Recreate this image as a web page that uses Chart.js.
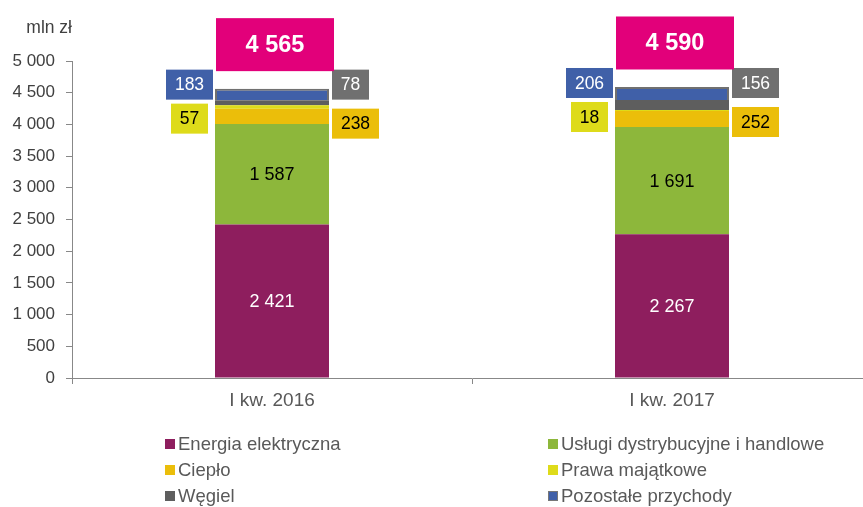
<!DOCTYPE html>
<html>
<head>
<meta charset="utf-8">
<script src="https://cdn.jsdelivr.net/npm/chart.js@4"></script>
<style>
	html, body { margin: 0; padding: 0; background: #fff; overflow: hidden; }
	canvas { display: block; }
</style>
</head>
<body>
<canvas id="chart" width="872" height="507"></canvas>
<script>
const categories = ['I kw. 2016', 'I kw. 2017'];
const energia = [2421, 2267];
const uslugi = [1587, 1691];
const cieplo = [238, 252];
const prawa = [57, 18];
const wegiel = [78, 156];
const pozostale = [183, 206];
const totals = [4565, 4590];
const seriesNames = ['Energia elektryczna', 'Usługi dystrybucyjne i handlowe', 'Ciepło', 'Prawa majątkowe', 'Węgiel', 'Pozostałe przychody'];
const unitLabel = 'mln zł';

const FONT = "'Liberation Sans', Arial, sans-serif";
const colors = ['#8E1E5E', '#8DB73B', '#EBBE0A', '#DEDB1A', '#5E5E5E', '#4060A8'];

function fmt(v){
	return String(v).replace(/\B(?=(\d{3})+(?!\d))/g, ' ');
}

function box(ctx, cx, cy, w, h, fill, text, textColor, font){
	ctx.fillStyle = fill;
	ctx.fillRect(cx - w/2, cy - h/2, w, h);
	ctx.fillStyle = textColor;
	ctx.font = font;
	ctx.textAlign = 'center';
	ctx.textBaseline = 'middle';
	ctx.fillText(text, cx, cy + 1);
}

// callouts and inner labels
const labelPlugin = {
	id: 'labels',
	afterDatasetsDraw(chart){
		const ctx = chart.ctx;
		ctx.save();
		const fIn = '18px ' + FONT;
		const fBox = '17.5px ' + FONT;
		for(let j=0;j<categories.length;j++){
			const top = chart.getDatasetMeta(5).data[j];
			const barTop = top.y;
			const left = top.x - top.width/2;
			const right = top.x + top.width/2;

			// inner labels
			const e = chart.getDatasetMeta(0).data[j];
			ctx.font = fIn; ctx.textAlign = 'center'; ctx.textBaseline = 'middle';
			ctx.fillStyle = '#fff';
			ctx.fillText(fmt(energia[j]), e.x, (e.y + e.base)/2 + 1);
			const u = chart.getDatasetMeta(1).data[j];
			ctx.fillStyle = '#000';
			ctx.fillText(fmt(uslugi[j]), u.x, (u.y + u.base)/2 + 1);

			const widthFor = (t) => { ctx.font = fBox; return Math.round(ctx.measureText(t).width) + 18; };

			// pozostałe - left, top
			let t = fmt(pozostale[j]), w = widthFor(t);
			box(ctx, left - 2 - w/2, barTop - 4, w, 30, '#4060A8', t, '#fff', fBox);
			// węgiel - right, top
			t = fmt(wegiel[j]); w = widthFor(t);
			box(ctx, right + 3 + w/2, barTop - 4, w, 30, '#707070', t, '#fff', fBox);
			// prawa - left, lower
			t = fmt(prawa[j]); w = widthFor(t);
			box(ctx, left - 7 - w/2, barTop + 30, w, 30, '#DEDB1A', t, '#000', fBox);
			// ciepło - right, lower
			t = fmt(cieplo[j]); w = widthFor(t);
			box(ctx, right + 3 + w/2, barTop + 35, w, 30, '#EBBE0A', t, '#000', fBox);
			// total
			box(ctx, top.x + 3, barTop - 44, 118, 53, '#E2007A', fmt(totals[j]), '#fff', 'bold 23.5px ' + FONT);
		}
		ctx.restore();
	},
	afterDraw(chart){
		const ctx = chart.ctx;
		ctx.save();
		ctx.font = '17.5px ' + FONT;
		ctx.fillStyle = '#404040';
		ctx.textAlign = 'right';
		ctx.textBaseline = 'middle';
		ctx.fillText(unitLabel, 72, 28);

		// legend, two columns
		const colX = [165, 548];
		const rowY = [444, 470, 496];
		ctx.font = '18.5px ' + FONT;
		ctx.textAlign = 'left';
		for(let i=0;i<seriesNames.length;i++){
			const x = colX[i % 2], y = rowY[Math.floor(i / 2)];
			ctx.fillStyle = colors[i];
			ctx.fillRect(x, y - 5, 10, 10);
			if(i === 5){
				ctx.strokeStyle = '#777';
				ctx.lineWidth = 1;
				ctx.strokeRect(x + 0.5, y - 4.5, 9, 9);
			}
			ctx.fillStyle = '#595959';
			ctx.fillText(seriesNames[i], x + 13, y + 1);
		}
		ctx.restore();
	}
};

const seriesData = [energia, uslugi, cieplo, prawa, wegiel, pozostale];
const datasets = seriesData.map((d, i) => ({
	label: seriesNames[i],
	data: d,
	backgroundColor: colors[i],
	borderColor: i === 5 ? '#707070' : 'rgba(255,255,255,0.6)',
	borderWidth: i === 5 ? 2 : 0,
	barPercentage: 0.57,
	categoryPercentage: 0.5
}));

new Chart(document.getElementById('chart'), {
	type: 'bar',
	data: { labels: categories, datasets: datasets },
	options: {
		responsive: false,
		animation: false,
		devicePixelRatio: 1,
		layout: { padding: { top: 61, right: 0, bottom: 0, left: 0 } },
		plugins: {
			legend: { display: false },
			tooltip: { enabled: false }
		},
		scales: {
			x: {
				stacked: true,
				afterFit(scale){ scale.height = 129; },
				grid: { offset: true, drawOnChartArea: false, tickLength: 6, color: '#888' },
				border: { color: '#888', width: 1 },
				ticks: { color: '#595959', font: { family: FONT, size: 19 }, padding: 5 }
			},
			y: {
				stacked: true,
				min: 0,
				max: 5000,
				afterFit(scale){ scale.width = 72; },
				grid: { drawOnChartArea: false, tickLength: 6, color: '#888' },
				border: { color: '#888', width: 1 },
				ticks: {
					stepSize: 500,
					color: '#404040',
					padding: 11,
					font: { family: FONT, size: 17 },
					callback: (v) => fmt(v)
				}
			}
		}
	},
	plugins: [labelPlugin]
});
</script>
</body>
</html>
